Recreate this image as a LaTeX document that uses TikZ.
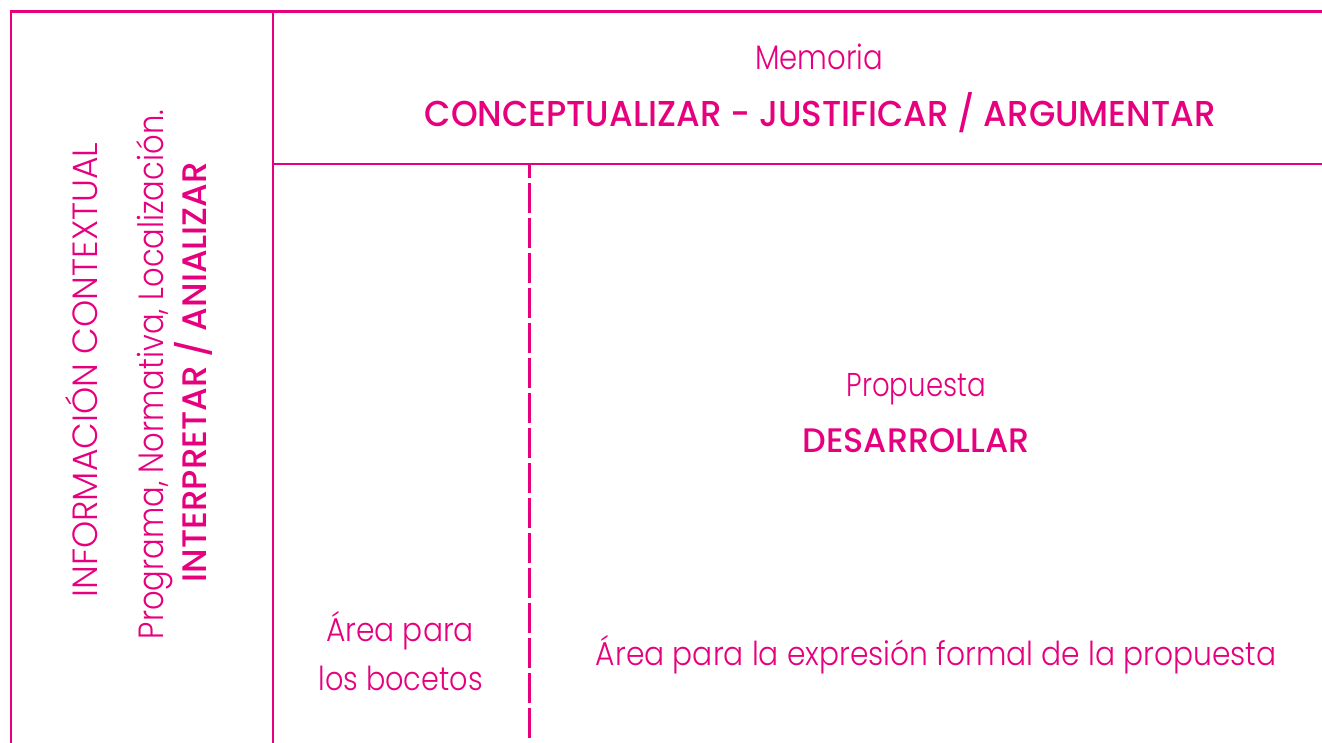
\documentclass[tikz,border=0pt]{standalone}
\usepackage{fontspec}
\setmainfont{Poppins}[UprightFont=* Light, BoldFont=* Medium]
\usepackage{graphicx}
\definecolor{mag}{RGB}{230,0,126}
\newsavebox\fwbox
\newcommand\fitw[2]{\sbox\fwbox{#2}\pgfmathsetmacro\fwfac{#1/\the\wd\fwbox}\scalebox{\fwfac}[1]{\usebox\fwbox}}
\tikzset{
  frame/.style={draw=mag, line width=2.6pt},
  dashframe/.style={draw=mag, line width=2.6pt, dash pattern=on 30pt off 5pt, dash phase=16pt},
  lbl/.style={text=mag, inner sep=0pt, anchor=base},
  vlbl/.style={text=mag, inner sep=0pt, anchor=base, rotate=90}
}
\begin{document}
\begin{tikzpicture}[x=1pt,y=-1pt]
\useasboundingbox (0,0) rectangle (1322,743);
% frame coordinates
\coordinate (bl) at (11,746);
\coordinate (tl) at (11,11.7);
\coordinate (tr) at (1324,11.7);
\coordinate (mt) at (273,11.7);
\coordinate (mb) at (273,746);
\coordinate (hl) at (273,164);
\coordinate (hr) at (1324,164);
\coordinate (dt) at (529.5,164);
\coordinate (db) at (529.5,746);
\draw[frame] (bl) -- (tl) -- (tr);
\draw[frame] (mt) -- (mb);
\draw[frame] (hl) -- (hr);
\draw[dashframe] (dt) -- (db);
% top texts
\node[lbl] (memoria) at (819,70) {\fitw{128}{\fontsize{34}{40}\selectfont Memoria}};
\node[lbl] (concep) at (820.3,126.5) {\fitw{791}{\fontsize{36}{42}\selectfont\bfseries CONCEPTUALIZAR - JUSTIFICAR / ARGUMENTAR}};
% center texts
\node[lbl] (propuesta) at (916.2,396.5) {\fitw{139}{\fontsize{33}{40}\selectfont Propuesta}};
\node[lbl] (desarrollar) at (916,452) {\fitw{226.6}{\fontsize{34}{40}\selectfont\bfseries DESARROLLAR}};
% bottom texts
\node[lbl] (areaexp) at (936.3,665.5) {\fitw{680.7}{\fontsize{33}{40}\selectfont Área para la expresión formal de la propuesta}};
\node[lbl] (areapara) at (400,641.5) {\fitw{148}{\fontsize{33}{40}\selectfont Área para}};
\node[lbl] (bocetos) at (400.7,690) {\fitw{164}{\fontsize{33}{40}\selectfont los bocetos}};
% vertical texts
\node[vlbl] (info) at (97,370) {\fitw{455}{\fontsize{35}{40}\selectfont INFORMACIÓN CONTEXTUAL}};
\node[vlbl] (programa) at (163,374.5) {\fitw{529}{\fontsize{35}{40}\selectfont Programa, Normativa, Localización.}};
\node[vlbl] (interp) at (206,372) {\fitw{420}{\fontsize{34}{40}\selectfont\bfseries INTERPRETAR / ANIALIZAR}};
\end{tikzpicture}
\end{document}
